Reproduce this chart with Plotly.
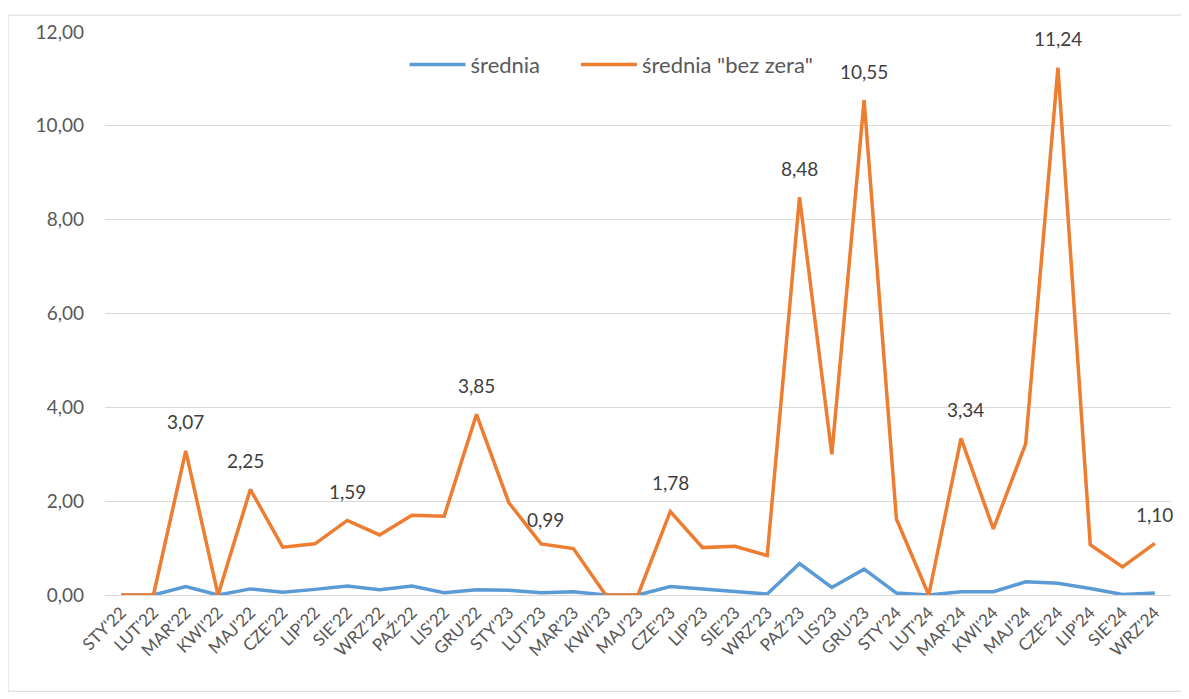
import plotly.graph_objects as go

categories = ["STY'22", "LUT'22", "MAR'22", "KWI'22", "MAJ'22", "CZE'22", "LIP'22", "SIE'22",
              "WRZ'22", "PAŹ'22", "LIS'22", "GRU'22", "STY'23", "LUT'23", "MAR'23", "KWI'23",
              "MAJ'23", "CZE'23", "LIP'23", "SIE'23", "WRZ'23", "PAŹ'23", "LIS'23", "GRU'23",
              "STY'24", "LUT'24", "MAR'24", "KWI'24", "MAJ'24", "CZE'24", "LIP'24", "SIE'24", "WRZ'24"]

srednia = [0.00, 0.00, 0.18, 0.00, 0.13, 0.06, 0.12, 0.19, 0.11, 0.19, 0.05, 0.11, 0.10,
           0.05, 0.07, 0.00, 0.00, 0.18, 0.13, 0.08, 0.02, 0.67, 0.16, 0.55, 0.04, 0.00,
           0.07, 0.07, 0.28, 0.25, 0.14, 0.01, 0.04]

srednia_bez_zera = [0.00, 0.00, 3.07, 0.00, 2.25, 1.02, 1.09, 1.59, 1.28, 1.70, 1.68, 3.85, 1.97,
                    1.09, 0.99, 0.00, 0.00, 1.78, 1.01, 1.04, 0.84, 8.48, 3.00, 10.55, 1.62, 0.00,
                    3.34, 1.41, 3.22, 11.24, 1.07, 0.60, 1.10]

labeled = ["MAR'22", "MAJ'22", "SIE'22", "GRU'22", "MAR'23", "CZE'23", "PAŹ'23", "GRU'23",
           "MAR'24", "CZE'24", "WRZ'24"]
label_xshift = {"MAJ'22": -5, "MAR'23": -28, "MAR'24": 4}

FONT = "Lato"
GRAY = "#595959"

fig = go.Figure()
fig.add_trace(go.Scatter(x=categories, y=srednia, mode="lines", name="średnia",
                         line=dict(color="#5b9bd5", width=3.5), legend="legend"))
fig.add_trace(go.Scatter(x=categories, y=srednia_bez_zera, mode="lines", name='średnia "bez zera"',
                         line=dict(color="#ed7d31", width=3.5), legend="legend2"))

for c in labeled:
    v = srednia_bez_zera[categories.index(c)]
    fig.add_annotation(x=c, y=v, text=f"{v:.2f}".replace(".", ","), showarrow=False,
                       yshift=29, xshift=label_xshift.get(c, 0),
                       font=dict(family=FONT, size=19, color="#404040"))

fig.add_shape(type="rect", xref="paper", yref="paper", x0=-0.091, x1=1.0103, y0=-0.171, y1=1.030,
              line=dict(color="#d9d9d9", width=1), fillcolor="rgba(0,0,0,0)", layer="below")

legend_common = dict(orientation="h", y=0.9417, xanchor="left", yanchor="middle",
                     font=dict(family=FONT, size=22, color=GRAY), bgcolor="rgba(0,0,0,0)",
                     itemwidth=56)

fig.update_layout(
    width=1181, height=691,
    margin=dict(l=97, r=18, t=21, b=104),
    paper_bgcolor="white", plot_bgcolor="white",
    font=dict(family=FONT, color=GRAY),
    showlegend=True,
    legend=dict(x=0.281, **legend_common),
    legend2=dict(x=0.4418, **legend_common),
    xaxis=dict(type="category", tickangle=-45, tickfont=dict(family=FONT, size=17, color=GRAY),
               showgrid=False, showline=True, linecolor="#d9d9d9", linewidth=1,
               ticks="", range=[-0.5, len(categories) - 0.5]),
    yaxis=dict(range=[0, 12], dtick=2, tickformat=".2f",
               tickfont=dict(family=FONT, size=19, color=GRAY),
               showgrid=True, gridcolor="#d9d9d9", gridwidth=1,
               zeroline=False, showline=False, ticks="", ticklabelstandoff=20),
    separators=", ",
)

fig.write_html("out.html")
